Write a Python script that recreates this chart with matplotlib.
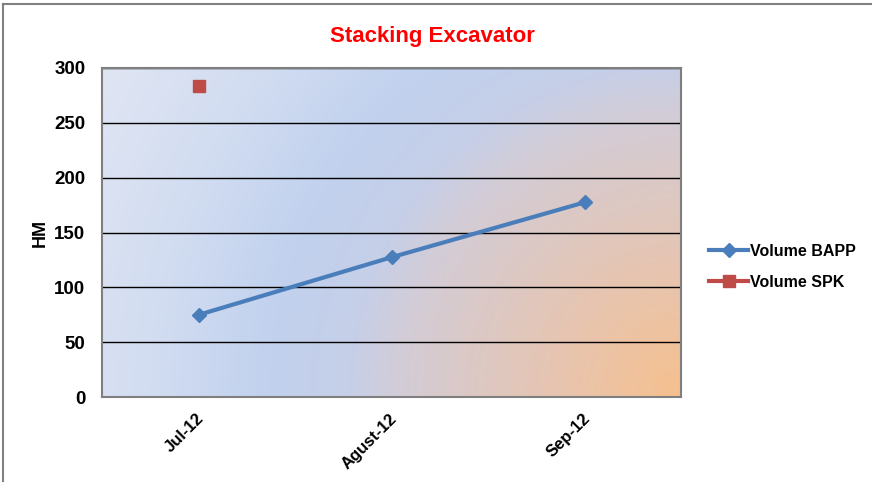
import numpy as np
import matplotlib.pyplot as plt
import matplotlib.transforms as mtransforms
from matplotlib.colors import LinearSegmentedColormap
from matplotlib.lines import Line2D

months = ['Jul-12', 'Agust-12', 'Sep-12']
volume_bapp = [75, 127.5, 177.5]
volume_spk = [283.5, None, None]
y_ticks = [0, 50, 100, 150, 200, 250, 300]

plt.rcParams['font.family'] = ['Liberation Sans', 'DejaVu Sans']

fig = plt.figure(figsize=(8.72, 4.82), dpi=100)
ax = fig.add_axes([0.117, 0.176, 0.664, 0.683])

# radial gradient background, orange in the bottom-right corner
cmap = LinearSegmentedColormap.from_list(
    'bg', [(0, '#f6c08e'), (0.2, '#e6c5b2'), (0.42, '#d3ccd6'),
           (0.5, '#c6cfe8'), (0.62, '#c1d1ee'), (0.8, '#d2ddf1'),
           (1, '#e0e5f3')])
u, v = np.meshgrid(np.linspace(0, 1, 300), np.linspace(0, 1, 200))
d = np.hypot((1 - u) * 579, (1 - v) * 329) / 666
ax.imshow(d, cmap=cmap, extent=[-0.5, 2.5, 300, 0], origin='lower',
          aspect='auto', vmin=0, vmax=1, zorder=0)

x = np.arange(len(months))
ax.plot(x, volume_bapp, color='#4a7ebb', lw=3, marker='D', ms=7,
        zorder=3)
spk = np.array([np.nan if v is None else v for v in volume_spk])
ax.plot(x, spk, color='#be4b48', lw=3, marker='s', ms=9, ls='none',
        zorder=3)

ax.set_xlim(-0.5, 2.5)
ax.set_ylim(0, 300)
ax.set_yticks(y_ticks)
ax.set_yticklabels([str(v) for v in y_ticks], fontsize=13.5, fontweight='bold')
ax.set_xticks(x)
ax.set_xticklabels(months, rotation=45, ha='right', rotation_mode='anchor',
                   fontsize=12, fontweight='bold')
ax.tick_params(axis='y', length=0, pad=12)
ax.tick_params(axis='x', length=0, pad=10)
offset = mtransforms.ScaledTranslation(-2 / 100, 0, fig.dpi_scale_trans)
for lbl in ax.get_xticklabels():
    lbl.set_transform(lbl.get_transform() + offset)
ax.yaxis.grid(True, color='black', lw=1)
for g in ax.get_ygridlines():
    g.set_zorder(1)
for s in ax.spines.values():
    s.set_color('#7f7f7f')
    s.set_linewidth(1.5)

ax.set_ylabel('HM', fontsize=13, fontweight='bold', labelpad=4)
fig.text(0.496, 0.925, 'Stacking Excavator', color='#ff0000', fontsize=16,
         fontweight='bold', ha='center', va='center')

handles = [Line2D([], [], color='#4a7ebb', lw=3, marker='D', ms=7),
           Line2D([], [], color='#be4b48', lw=3, marker='s', ms=8)]
fig.legend(handles, ['Volume BAPP', 'Volume SPK'], loc='center left',
           bbox_to_anchor=(0.797, 0.447), frameon=False,
           prop={'weight': 'bold', 'size': 11.5}, handlelength=2.4,
           handletextpad=0.15, labelspacing=1.0)

# outer chart border (left and top edges visible)
fig.add_artist(Line2D([0.004, 0.004], [0.0, 0.992], color='#808080', lw=1.5))
fig.add_artist(Line2D([0.004, 1.0], [0.992, 0.992], color='#808080', lw=1.5))

fig.savefig('out.png', dpi=100)
